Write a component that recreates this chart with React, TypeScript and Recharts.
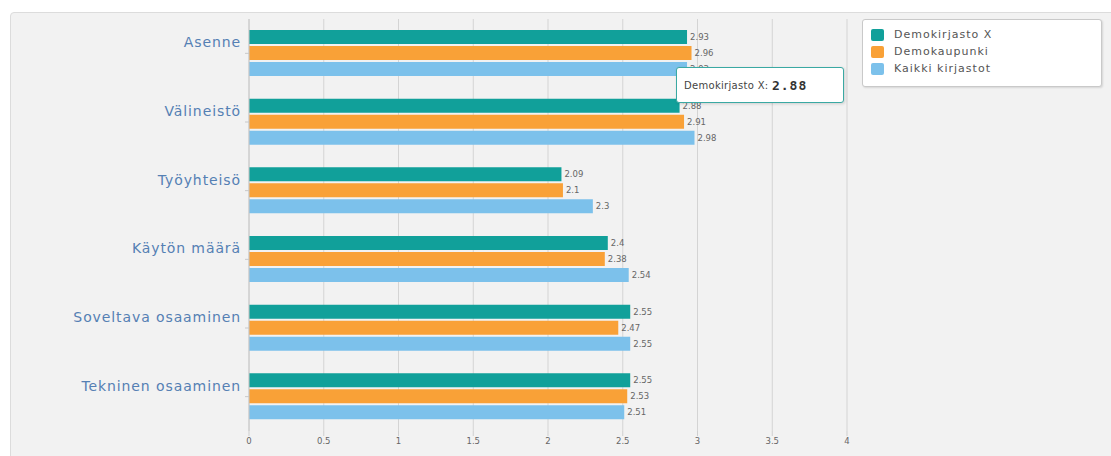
import { Bar, BarChart, CartesianGrid, LabelList, Tooltip, XAxis, YAxis } from 'recharts'

const categories = ['Asenne', 'Välineistö', 'Työyhteisö', 'Käytön määrä', 'Soveltava osaaminen', 'Tekninen osaaminen']
const demokirjasto = [2.93, 2.88, 2.09, 2.4, 2.55, 2.55]
const demokaupunki = [2.96, 2.91, 2.1, 2.38, 2.47, 2.53]
const kaikki = [2.93, 2.98, 2.3, 2.54, 2.55, 2.51]
const xTicks = [0, 0.5, 1, 1.5, 2, 2.5, 3, 3.5, 4]

const series = [
    { key: 'demokirjasto', name: 'Demokirjasto X', color: '#11a09a' },
    { key: 'demokaupunki', name: 'Demokaupunki', color: '#f9a137' },
    { key: 'kaikki', name: 'Kaikki kirjastot', color: '#7cc1eb' },
]

const data = categories.map((name, i) => ({
    name,
    demokirjasto: demokirjasto[i],
    demokaupunki: demokaupunki[i],
    kaikki: kaikki[i],
}))

const font = '"DejaVu Sans", sans-serif'

// hover box for the first series only, pinned next to the Välineistö bars
function HoverBox({ payload }: any) {
    if (!payload || !payload.length) return null
    const item = payload[0]
    return (
        <div style={{
            background: '#fff',
            border: '1px solid #3aa9a3',
            borderRadius: 3,
            boxShadow: '1px 1px 3px rgba(0,0,0,0.15)',
            width: 168,
            height: 36,
            boxSizing: 'border-box',
            display: 'flex',
            alignItems: 'center',
            paddingLeft: 7,
            fontFamily: font,
            fontSize: 10,
            letterSpacing: 0.3,
            color: '#444',
            whiteSpace: 'nowrap',
        }}>
            {item.name}:&nbsp;
            <b style={{ fontFamily: '"DejaVu Sans Mono", monospace', fontSize: 13, letterSpacing: 1, color: '#333' }}>{item.value}</b>
        </div>
    )
}

export default function App() {
    return (
        <div style={{ position: 'absolute', left: 0, top: 0, width: 1111, height: 456, background: '#fff', overflow: 'hidden' }}>
            <div style={{
                position: 'absolute', left: 10, top: 12, width: 1120, height: 460,
                background: '#f2f2f2', border: '1px solid #dcdcdc', borderRadius: 4,
            }} />
            <div style={{ position: 'absolute', left: 0, top: 0 }}>
                <BarChart
                    width={1111}
                    height={456}
                    data={data}
                    layout="vertical"
                    margin={{ top: 19, right: 264, bottom: 0, left: 0 }}
                    barSize={14}
                    barGap={2}
                >
                    <CartesianGrid horizontal={false} stroke="#d4d4d4" />
                    <XAxis
                        type="number"
                        domain={[0, 4]}
                        ticks={xTicks}
                        height={25}
                        axisLine={false}
                        tickLine={{ stroke: '#cfcfcf' }}
                        tickSize={5}
                        tick={{ fontSize: 8.5, fill: '#666', fontFamily: font }}
                        interval={0}
                    />
                    <YAxis
                        type="category"
                        dataKey="name"
                        width={249}
                        axisLine={{ stroke: '#c8c8c8' }}
                        tickLine={{ stroke: '#c8c8c8' }}
                        tickSize={4}
                        tickMargin={4}
                        tick={{ fontSize: 14, fill: '#5580b4', fontFamily: font, letterSpacing: 0.9, dy: -11 }}
                    />
                    {series.map(s => (
                        <Bar key={s.key} dataKey={s.key} name={s.name} fill={s.color} isAnimationActive={false}>
                            <LabelList
                                dataKey={s.key}
                                position="right"
                                offset={3}
                                style={{ fontSize: 8.5, fill: '#666', fontFamily: font }}
                            />
                        </Bar>
                    ))}
                    <Tooltip
                        defaultIndex={1}
                        cursor={false}
                        isAnimationActive={false}
                        position={{ x: 676, y: 67 }}
                        content={<HoverBox />}
                    />
                </BarChart>
            </div>
            <div style={{
                position: 'absolute', left: 862, top: 19, width: 240, height: 68,
                background: '#fff', border: '1px solid #c9c9c9', borderRadius: 3,
                boxShadow: '1px 1px 2px rgba(0,0,0,0.12)', boxSizing: 'border-box',
                paddingTop: 6, paddingLeft: 8, fontFamily: font, fontSize: 11, letterSpacing: 1, color: '#555',
            }}>
                {series.map(s => (
                    <div key={s.key} style={{ display: 'flex', alignItems: 'center', height: 17 }}>
                        <span style={{ width: 13, height: 12, background: s.color, borderRadius: 2, marginRight: 10 }} />
                        {s.name}
                    </div>
                ))}
            </div>
        </div>
    )
}
